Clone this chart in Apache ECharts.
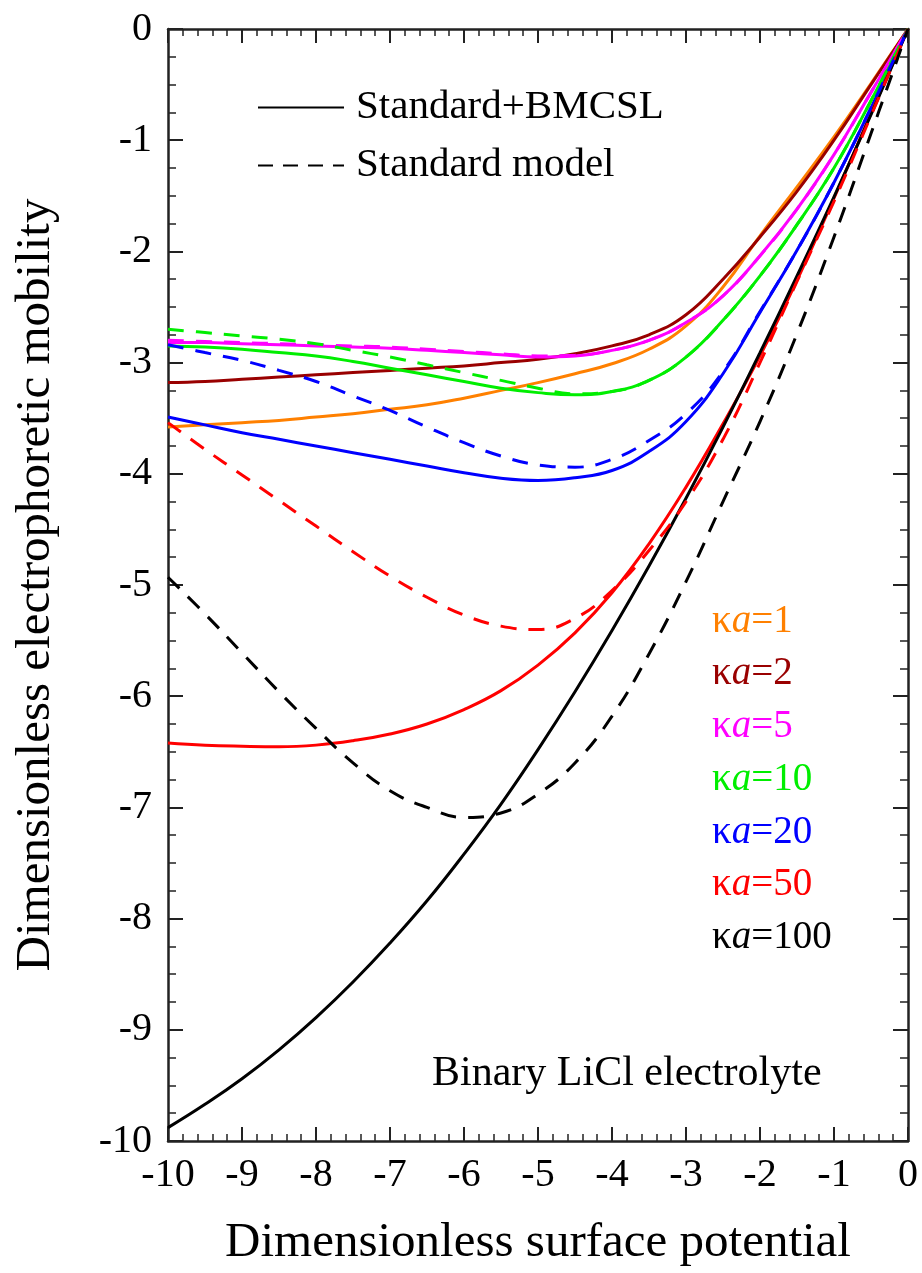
<!DOCTYPE html>
<html>
<head>
<meta charset="utf-8">
<script src="https://cdn.jsdelivr.net/npm/echarts@6/dist/echarts.min.js"></script>
<style>
html,body{margin:0;padding:0;background:#fff;}
#chart{width:922px;height:1273px;}
</style>
</head>
<body>
<div id="chart"></div>
<script>
// x values (dimensionless surface potential)
const xVals = [-10,-9.5,-9,-8.5,-8,-7.5,-7,-6.5,-6,-5.5,-5,-4.5,-4,-3.5,-3,-2.5,-2,-1.5,-1,-0.5,0];

// Standard+BMCSL (solid)
const ka1_bmcsl   = [-3.58,-3.56,-3.54,-3.52,-3.49,-3.46,-3.42,-3.38,-3.32,-3.25,-3.18,-3.10,-3.01,-2.88,-2.67,-2.32,-1.86,-1.42,-0.97,-0.49,0];
const ka2_bmcsl   = [-3.18,-3.17,-3.15,-3.13,-3.11,-3.09,-3.07,-3.05,-3.03,-3.00,-2.97,-2.92,-2.85,-2.75,-2.57,-2.25,-1.87,-1.46,-1.00,-0.50,0];
const ka5_bmcsl   = [-2.82,-2.82,-2.83,-2.84,-2.85,-2.86,-2.87,-2.89,-2.91,-2.93,-2.95,-2.94,-2.89,-2.80,-2.64,-2.40,-2.04,-1.62,-1.13,-0.57,0];
const ka10_bmcsl  = [-2.85,-2.86,-2.88,-2.91,-2.94,-2.99,-3.05,-3.11,-3.17,-3.23,-3.27,-3.29,-3.26,-3.16,-2.95,-2.62,-2.22,-1.76,-1.25,-0.645,0];
const ka20_bmcsl  = [-3.49,-3.56,-3.63,-3.69,-3.75,-3.81,-3.87,-3.93,-3.99,-4.04,-4.06,-4.035,-3.97,-3.80,-3.53,-3.10,-2.55,-1.99,-1.38,-0.71,0];
const ka50_bmcsl  = [-6.42,-6.44,-6.45,-6.455,-6.44,-6.40,-6.34,-6.25,-6.12,-5.95,-5.72,-5.43,-5.07,-4.63,-4.12,-3.55,-2.94,-2.26,-1.52,-0.76,0];
const ka100_bmcsl = [-9.88,-9.67,-9.44,-9.18,-8.89,-8.57,-8.22,-7.84,-7.42,-6.97,-6.48,-5.96,-5.41,-4.83,-4.22,-3.58,-2.91,-2.22,-1.51,-0.77,0];

// Standard model (dashed)
const ka5_std   = [-2.80,-2.81,-2.82,-2.83,-2.84,-2.85,-2.86,-2.88,-2.90,-2.92,-2.94,-2.935,-2.89,-2.80,-2.64,-2.40,-2.04,-1.62,-1.13,-0.57,0];
const ka10_std  = [-2.70,-2.73,-2.76,-2.79,-2.83,-2.89,-2.95,-3.02,-3.09,-3.16,-3.23,-3.28,-3.26,-3.16,-2.95,-2.62,-2.22,-1.76,-1.25,-0.645,0];
const ka20_std  = [-2.84,-2.91,-2.98,-3.07,-3.17,-3.30,-3.43,-3.58,-3.72,-3.84,-3.92,-3.94,-3.87,-3.70,-3.46,-3.08,-2.54,-1.99,-1.38,-0.71,0];
const ka50_std  = [-3.54,-3.78,-4.01,-4.24,-4.47,-4.70,-4.92,-5.11,-5.27,-5.37,-5.40,-5.30,-5.05,-4.69,-4.25,-3.69,-3.00,-2.27,-1.55,-0.78,0];
const ka100_std = [-4.93,-5.26,-5.61,-5.96,-6.29,-6.60,-6.85,-7.00,-7.09,-7.05,-6.88,-6.60,-6.18,-5.62,-4.97,-4.25,-3.53,-2.74,-1.87,-0.94,0];

// label texts
const kaLabels = ['1','2','5','10','20','50','100'];
const kaColors = ['#FF8000','#990000','#FF00FF','#00EE00','#0000FF','#FF0000','#000000'];
const legendNames = ['Standard+BMCSL','Standard model'];

const FONT = "'Liberation Serif','Times New Roman',serif";
const pair = ys => xVals.map((x,i)=>[x, ys[i]]);

function lineSeries(name, ys, color, dashed){
  return {
    name: name, type:'line', data: pair(ys), symbol:'none', smooth:0.45,
    lineStyle:{color: color, width:3, type: dashed ? [16,12] : 'solid', cap:'butt'},
    itemStyle:{color: color}, silent:true, z: dashed ? 3 : 2
  };
}

const series = [
  lineSeries('ka1 BMCSL', ka1_bmcsl, kaColors[0], false),
  lineSeries('ka2 BMCSL', ka2_bmcsl, kaColors[1], false),
  lineSeries('ka5 BMCSL', ka5_bmcsl, kaColors[2], false),
  lineSeries('ka5 std', ka5_std, kaColors[2], true),
  lineSeries('ka10 BMCSL', ka10_bmcsl, kaColors[3], false),
  lineSeries('ka10 std', ka10_std, kaColors[3], true),
  lineSeries('ka20 BMCSL', ka20_bmcsl, kaColors[4], false),
  lineSeries('ka20 std', ka20_std, kaColors[4], true),
  lineSeries('ka50 BMCSL', ka50_bmcsl, kaColors[5], false),
  lineSeries('ka50 std', ka50_std, kaColors[5], true),
  lineSeries('ka100 BMCSL', ka100_bmcsl, kaColors[6], false),
  lineSeries('ka100 std', ka100_std, kaColors[6], true),
  {name: legendNames[0], type:'line', data:[], symbol:'none', lineStyle:{color:'#000', width:3, type:'solid'}, itemStyle:{color:'#000'}},
  {name: legendNames[1], type:'line', data:[], symbol:'none', lineStyle:{color:'#000', width:3, type:[15,10]}, itemStyle:{color:'#000'}}
];

const axisCol = '#222';
function xAx(pos, showLabel){
  return {
    type:'value', min:-10, max:0, interval:1, position:pos,
    axisLine:{show:true, onZero:false, lineStyle:{color:axisCol, width:2.5}},
    axisTick:{show:true, inside:true, length:14, lineStyle:{color:axisCol, width:2}},
    minorTick:{show:true, splitNumber:5, length:7, lineStyle:{color:axisCol, width:1.5}},
    splitLine:{show:false}, minorSplitLine:{show:false},
    axisLabel:{show:showLabel, fontSize:40, color:'#000', fontFamily:FONT, margin:14},
    name: showLabel ? 'Dimensionless surface potential' : '',
    nameLocation:'middle', nameGap:78,
    nameTextStyle:{fontSize:49, color:'#000', fontFamily:FONT}
  };
}
function yAx(pos, showLabel){
  return {
    type:'value', min:-10, max:0, interval:1, position:pos,
    axisLine:{show:true, onZero:false, lineStyle:{color:axisCol, width:2.5}},
    axisTick:{show:true, inside:true, length:15, lineStyle:{color:axisCol, width:2}},
    minorTick:{show:true, splitNumber:4, length:8, lineStyle:{color:axisCol, width:1.5}},
    splitLine:{show:false}, minorSplitLine:{show:false},
    axisLabel:{show:showLabel, fontSize:40, color:'#000', fontFamily:FONT, margin:16},
    name: showLabel ? 'Dimensionless electrophoretic mobility' : '',
    nameLocation:'middle', nameGap:107,
    nameTextStyle:{fontSize:49, color:'#000', fontFamily:FONT}
  };
}

const graphics = kaLabels.map((v,i)=>({
  type:'text', left:712, top: 602 + 52.7*i,
  style:{
    text:'{n|κ}{i|a}{n|=' + v + '}',
    fill: kaColors[i],
    font: '39px ' + FONT,
    rich:{
      n:{fontSize:39, fontFamily:FONT, fill:kaColors[i], color:kaColors[i]},
      i:{fontSize:39, fontFamily:FONT, fontStyle:'italic', fill:kaColors[i], color:kaColors[i]}
    }
  }
}));
graphics.push({
  type:'text', left:432, top:1053,
  style:{text:'Binary LiCl electrolyte', fill:'#000', font:'42px ' + FONT}
});

const chart = echarts.init(document.getElementById('chart'), null, {renderer:'canvas'});
chart.setOption({
  animation:false,
  backgroundColor:'#fff',
  grid:{left:168, right:14, top:29, bottom:130, containLabel:false},
  xAxis:[xAx('bottom', true), xAx('top', false)],
  yAxis:[yAx('left', true), yAx('right', false)],
  legend:{
    data: legendNames, left:257, top:87, orient:'vertical', padding:0,
    itemWidth:86, itemHeight:14, itemGap:17,
    itemStyle:{opacity:0},
    textStyle:{fontSize:41, color:'#000', fontFamily:FONT, padding:[0,0,0,7]},
    selectedMode:false
  },
  graphic: graphics,
  series: series
});
</script>
</body>
</html>
